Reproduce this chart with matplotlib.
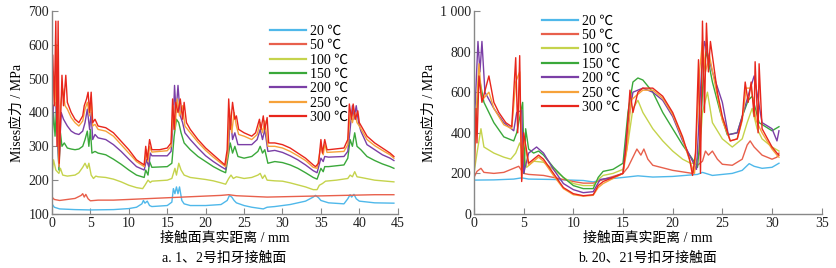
import matplotlib
matplotlib.use('Agg')
import matplotlib.pyplot as plt

plt.rcParams['font.family'] = ['Liberation Serif', 'Noto Sans CJK SC']
plt.rcParams['axes.unicode_minus'] = False

# ================================================================
# Data (x: mm, y: MPa)
# ================================================================
labels = ['20 ℃', '50 ℃', '100 ℃', '150 ℃', '200 ℃', '250 ℃', '300 ℃']
colors = ['#4fb8ea', '#e8604c', '#c5d34c', '#3aa83a', '#7b3fa6', '#f6a23a', '#e8261c']

# --- a. 1、2号扣牙接触面 ---
a20_x = [0, 0.3, 1, 3, 5, 8, 10, 11, 11.7, 11.9, 12.1, 12.4, 12.7, 13, 15, 15.6, 15.8, 16, 16.2, 16.4, 16.6, 16.9, 17.2, 18, 20, 22, 22.8, 23.1, 23.4, 23.7, 24, 25, 26, 27.5, 28, 29, 31, 33, 34, 34.3, 34.7, 35, 36, 38, 38.5, 38.8, 39, 39.3, 39.6, 40, 42, 44.5]
a20_y = [130, 120, 115, 113, 112, 113, 116, 120, 130, 140, 132, 138, 125, 122, 125, 135, 175, 160, 180, 160, 180, 140, 130, 125, 125, 128, 140, 155, 150, 140, 133, 125, 120, 115, 120, 122, 128, 138, 150, 155, 148, 140, 133, 130, 145, 157, 150, 158, 145, 138, 133, 132]

a50_x = [0, 0.3, 1, 2, 3, 3.8, 4, 4.2, 4.4, 4.7, 5, 6, 8, 10, 12, 14, 16, 18, 20, 22, 23, 24, 26, 28, 30, 32, 34, 36, 38, 40, 42, 44.5]
a50_y = [150, 143, 140, 143, 146, 155, 160, 150, 158, 145, 139, 141, 141, 143, 145, 147, 149, 151, 153, 155, 157, 154, 152, 150, 151, 152, 153, 154, 155, 156, 157, 157]

a100_x = [0, 0.2, 0.5, 0.9, 1.1, 1.4, 2, 3, 3.5, 4, 4.3, 4.6, 4.8, 5.1, 5.4, 5.7, 6, 7, 8, 9, 10, 11, 11.8, 12.1, 12.5, 12.8, 13, 15, 15.6, 16, 16.2, 16.5, 16.8, 17.2, 18, 19, 20, 21, 22, 22.6, 23, 23.3, 23.6, 24, 25, 26, 26.8, 27.1, 27.4, 27.7, 28, 29, 30, 31, 32, 33, 34, 34.5, 34.8, 35.2, 35.6, 37, 38.5, 38.8, 39.1, 39.4, 39.7, 40.2, 42, 44.5]
a100_y = [215, 260, 230, 220, 235, 215, 212, 215, 222, 238, 250, 235, 250, 215, 205, 212, 210, 208, 203, 195, 185, 178, 175, 185, 200, 193, 197, 200, 205, 235, 215, 250, 230, 215, 208, 205, 202, 198, 192, 188, 205, 215, 205, 210, 205, 208, 215, 220, 205, 215, 200, 198, 197, 192, 186, 180, 172, 172, 185, 190, 197, 200, 205, 215, 210, 225, 210, 208, 200, 195]

a150_x = [0, 0.2, 0.4, 0.6, 0.9, 1.1, 1.3, 1.6, 2, 2.5, 3, 3.5, 4, 4.3, 4.6, 4.8, 5, 5.2, 5.6, 6, 7, 8, 9, 10, 11, 12, 12.2, 12.5, 12.7, 13, 15, 15.6, 15.9, 16.2, 16.5, 16.8, 17.2, 18, 19, 20, 21, 22, 22.6, 23, 23.2, 23.5, 23.8, 24.2, 25, 26, 26.8, 27.1, 27.4, 27.7, 28.1, 29, 30, 31, 32, 33, 34, 34.5, 35, 35.3, 35.5, 36, 38, 38.5, 38.8, 39.1, 39.4, 39.7, 40.2, 41, 42, 43, 44, 44.5]
a150_y = [320, 400, 330, 420, 230, 340, 300, 310, 295, 292, 290, 292, 300, 320, 345, 300, 350, 280, 285, 280, 275, 262, 247, 230, 215, 208, 230, 215, 255, 238, 240, 250, 330, 380, 370, 340, 310, 290, 270, 255, 240, 228, 222, 280, 310, 280, 300, 270, 265, 270, 285, 300, 280, 290, 250, 255, 252, 245, 235, 222, 208, 203, 235, 225, 240, 240, 245, 265, 320, 300, 340, 300, 290, 270, 258, 248, 240, 235]

a200_x = [0, 0.2, 0.5, 0.9, 1.2, 1.5, 2, 2.5, 3, 3.5, 4, 4.3, 4.6, 4.9, 5.1, 5.3, 5.6, 6, 7, 8, 9, 10, 11, 12, 12.3, 12.6, 12.8, 13, 15, 15.5, 15.8, 15.95, 16.15, 16.4, 16.7, 17, 17.3, 18, 19, 20, 21, 22, 22.6, 23, 23.2, 23.5, 23.8, 24.2, 25, 26, 26.7, 27.1, 27.4, 27.7, 28.1, 29, 30, 31, 32, 33, 34, 34.5, 35, 35.3, 35.5, 36, 38, 38.5, 38.8, 39.1, 39.3, 39.6, 39.9, 40.2, 41, 42, 43, 44, 44.5]
a200_y = [350, 420, 430, 240, 400, 380, 360, 345, 338, 335, 345, 370, 410, 350, 400, 320, 335, 325, 320, 305, 285, 262, 240, 230, 260, 240, 280, 272, 272, 285, 380, 480, 400, 480, 390, 370, 340, 320, 295, 272, 255, 240, 232, 300, 390, 320, 340, 305, 305, 305, 320, 350, 320, 350, 285, 288, 282, 272, 260, 245, 228, 222, 265, 255, 270, 268, 270, 285, 350, 420, 380, 420, 370, 345, 305, 290, 275, 265, 258]

a250_x = [0, 0.2, 0.4, 0.6, 0.9, 1.1, 1.4, 1.7, 2, 2.5, 3, 3.5, 4, 4.3, 4.6, 4.9, 5.1, 5.3, 5.6, 6, 7, 8, 9, 10, 11, 12, 12.3, 12.5, 12.7, 13, 15, 15.5, 15.8, 16, 16.3, 16.6, 17, 17.3, 18, 19, 20, 21, 22, 22.6, 22.9, 23.1, 23.4, 23.7, 24, 24.3, 25, 26, 26.7, 27.1, 27.4, 27.7, 28.1, 29, 30, 31, 32, 33, 34, 34.5, 35, 35.3, 35.5, 35.8, 38, 38.5, 38.8, 39.1, 39.4, 39.7, 40, 41, 42, 43, 44, 44.5]
a250_y = [380, 520, 420, 600, 240, 420, 470, 420, 410, 385, 370, 360, 375, 410, 430, 390, 440, 360, 365, 350, 345, 330, 305, 280, 255, 240, 290, 255, 300, 283, 287, 300, 420, 350, 440, 390, 420, 360, 340, 312, 288, 268, 250, 240, 280, 410, 340, 400, 360, 335, 330, 320, 335, 370, 340, 375, 300, 300, 295, 285, 272, 258, 238, 235, 300, 275, 305, 282, 285, 305, 400, 370, 400, 370, 360, 320, 302, 288, 275, 265]

a300_x = [0, 0.1, 0.3, 0.5, 0.65, 0.8, 0.95, 1.3, 1.5, 1.8, 2, 2.5, 3, 3.5, 4, 4.2, 4.5, 4.7, 4.9, 5.1, 5.3, 5.6, 6, 7, 8, 9, 10, 11, 12, 12.2, 12.4, 12.7, 13, 14, 15, 15.5, 15.7, 15.9, 16.1, 16.4, 16.7, 17, 17.2, 17.5, 18, 19, 20, 21, 22, 22.5, 22.8, 23, 23.2, 23.5, 23.8, 24, 24.3, 25, 26, 26.5, 27, 27.2, 27.5, 27.7, 28, 28.2, 29, 30, 31, 32, 33, 34, 34.3, 34.7, 35, 35.2, 35.5, 35.8, 36, 38, 38.5, 38.7, 39, 39.2, 39.5, 39.8, 40, 41, 42, 43, 44, 44.5]
a300_y = [400, 570, 420, 670, 300, 670, 250, 510, 420, 510, 430, 400, 380, 370, 390, 420, 440, 460, 400, 460, 370, 380, 360, 355, 340, 315, 290, 260, 245, 300, 260, 320, 290, 290, 295, 310, 440, 350, 430, 400, 440, 380, 430, 370, 350, 320, 295, 275, 255, 245, 290, 440, 350, 430, 380, 390, 350, 340, 330, 340, 380, 350, 390, 350, 385, 310, 310, 305, 295, 280, 265, 245, 240, 250, 320, 280, 320, 290, 290, 295, 320, 425, 380, 425, 380, 405, 370, 330, 310, 295, 280, 270]

# --- b. 20、21号扣牙接触面 ---
b20_x = [0, 2, 4, 4.8, 5.5, 8, 11, 12, 13, 15, 16.5, 18, 20, 22.5, 23, 24, 26, 27, 27.7, 28.2, 29, 30, 30.7]
b20_y = [167, 168, 172, 178, 172, 170, 165, 158, 170, 180, 188, 182, 185, 195, 205, 190, 200, 215, 248, 235, 225, 230, 250]

b50_x = [0, 0.3, 0.7, 1, 2, 3, 3.5, 4.5, 5, 5.5, 7, 8, 10, 11, 12, 13, 15, 15.5, 16, 16.4, 16.8, 17.1, 17.5, 18, 20, 22, 22.5, 23, 23.3, 23.6, 24, 24.5, 25, 26, 27, 27.5, 27.8, 28.2, 29, 30, 30.5, 30.7]
b50_y = [180, 210, 225, 205, 200, 205, 215, 235, 200, 195, 190, 180, 160, 152, 152, 170, 200, 230, 280, 320, 290, 320, 270, 240, 215, 200, 240, 260, 310, 290, 310, 270, 245, 240, 270, 340, 360, 330, 290, 270, 280, 300]

b100_x = [0, 0.3, 0.7, 1, 2, 3, 3.7, 4.2, 4.6, 5, 5.3, 6, 7, 8, 9, 10, 11, 12, 12.5, 13, 14, 15, 15.5, 16, 16.5, 17, 18, 19, 20, 21, 21.8, 22.3, 22.7, 23, 23.5, 24, 25, 26, 27, 27.5, 28, 28.5, 29, 30, 30.7]
b100_y = [200, 300, 420, 330, 300, 280, 270, 300, 350, 290, 230, 260, 255, 220, 180, 150, 140, 140, 170, 190, 200, 220, 350, 520, 560, 500, 420, 360, 310, 270, 250, 250, 300, 500, 600, 450, 370, 330, 370, 450, 520, 420, 370, 330, 310]

b150_x = [0, 0.5, 1, 2, 3, 4, 4.3, 4.9, 5.05, 5.2, 5.5, 6, 6.5, 7, 8, 9, 10, 11, 12, 12.5, 13, 14, 15, 15.5, 16, 16.5, 17, 18, 19, 20, 21, 22, 22.5, 22.8, 23.1, 23.4, 24, 24.8, 25.5, 26.5, 27, 27.6, 28, 28.7, 30, 30.7]
b150_y = [300, 680, 550, 450, 380, 360, 400, 550, 200, 420, 320, 300, 310, 290, 230, 180, 140, 125, 125, 180, 210, 220, 250, 500, 650, 670, 660, 600, 500, 420, 340, 270, 230, 400, 700, 800, 650, 500, 390, 400, 480, 560, 580, 450, 410, 430]

b200_x = [0, 0.4, 0.6, 0.8, 1.1, 2, 3, 4, 4.3, 4.8, 5, 5.5, 6.3, 7, 8, 9, 10, 11, 12, 12.7, 14, 15, 15.5, 16, 17, 18, 19, 20, 21, 22, 22.4, 22.9, 23.2, 24, 25, 25.6, 26.5, 27, 27.7, 28.2, 29, 30, 30.5, 30.7]
b200_y = [400, 850, 700, 850, 600, 520, 450, 410, 500, 510, 200, 300, 330, 300, 220, 150, 120, 105, 110, 170, 180, 200, 450, 600, 620, 600, 560, 480, 360, 260, 220, 700, 850, 700, 550, 390, 400, 480, 600, 680, 450, 420, 360, 410]

b250_x = [0, 0.2, 0.5, 0.8, 1.5, 2, 3, 3.8, 4.2, 4.6, 4.8, 5, 5.5, 6.5, 7, 8, 9, 10, 11, 12, 12.5, 13, 14, 15, 15.4, 15.8, 16.5, 17, 18, 19, 20, 21, 21.8, 22.2, 22.7, 23, 23.3, 23.7, 24.5, 25, 25.8, 26.5, 27, 27.4, 27.9, 28.4, 29, 30, 30.5, 30.7]
b250_y = [180, 480, 740, 560, 600, 520, 440, 420, 650, 700, 170, 380, 240, 280, 260, 190, 125, 95, 88, 92, 130, 150, 175, 200, 320, 560, 590, 610, 610, 570, 490, 370, 250, 200, 700, 850, 700, 780, 580, 460, 360, 370, 460, 620, 620, 460, 400, 320, 290, 280]

b300_x = [0, 0.2, 0.3, 0.5, 0.8, 1.5, 2, 2.5, 3.2, 3.8, 4.2, 4.4, 4.6, 4.8, 5, 5.5, 6.5, 7, 8, 9, 10, 11, 12, 12.5, 13, 14, 15, 15.3, 15.7, 16, 16.5, 17, 18, 19, 20, 21, 21.7, 22, 22.3, 22.6, 22.8, 23, 23.2, 23.4, 23.6, 23.8, 24.5, 25, 25.8, 26.5, 27, 27.3, 27.6, 27.9, 28.2, 28.3, 28.6, 28.7, 29, 30, 30.5, 30.7]
b300_y = [170, 520, 350, 680, 550, 680, 550, 500, 450, 430, 770, 400, 780, 160, 400, 250, 290, 270, 200, 130, 100, 90, 95, 140, 160, 180, 200, 330, 610, 500, 600, 620, 620, 580, 500, 380, 270, 190, 300, 760, 200, 950, 500, 940, 700, 850, 600, 480, 360, 370, 470, 650, 550, 650, 480, 750, 400, 740, 420, 330, 300, 290]

a_series = [(a20_x, a20_y), (a50_x, a50_y), (a100_x, a100_y), (a150_x, a150_y),
            (a200_x, a200_y), (a250_x, a250_y), (a300_x, a300_y)]
b_series = [(b20_x, b20_y), (b50_x, b50_y), (b100_x, b100_y), (b150_x, b150_y),
            (b200_x, b200_y), (b250_x, b250_y), (b300_x, b300_y)]

a_xticks = [0, 5, 10, 15, 20, 25, 30, 35, 40, 45]
a_yticks = [100, 200, 300, 400, 500, 600, 700]
b_xticks = [0, 5, 10, 15, 20, 25, 30, 35]
b_yticks = [0, 200, 400, 600, 800, 1000]
b_yticklabels = ['0', '200', '400', '600', '800', '1 000']

# ================================================================
# Plot
# ================================================================
fig = plt.figure(figsize=(8.37, 2.68), dpi=100)
ax1 = fig.add_axes([0.0621, 0.2015, 0.4131, 0.7575])
ax2 = fig.add_axes([0.5663, 0.2015, 0.4154, 0.7575])

for ax, series in [(ax1, a_series), (ax2, b_series)]:
    for (xs, ys), lab, c in zip(series, labels, colors):
        ax.plot(xs, ys, color=c, lw=1.0, label=lab)
    for side in ['top', 'right']:
        ax.spines[side].set_visible(False)
    for side in ['left', 'bottom']:
        ax.spines[side].set_color('#888888')
        ax.spines[side].set_linewidth(1.0)
    ax.tick_params(direction='in', length=4, color='#888888', labelsize=10,
                   labelcolor='#222222', pad=2)
    ax.set_ylabel('Mises应力 / MPa', fontsize=10, labelpad=3)
    ax.set_xlabel('接触面真实距离 / mm', fontsize=10, labelpad=1)

ax1.set_xlim(0, 45)
ax1.set_ylim(100, 700)
ax1.set_xticks(a_xticks)
ax1.set_yticks(a_yticks)

ax2.set_xlim(0, 35)
ax2.set_ylim(0, 1000)
ax2.set_xticks(b_xticks)
ax2.set_yticks(b_yticks)
ax2.set_yticklabels(b_yticklabels)

leg_kw = dict(frameon=False, fontsize=10, handlelength=2.6, handletextpad=0.3,
              labelspacing=0.1, borderaxespad=0)
leg1 = ax1.legend(loc='upper left', bbox_to_anchor=(0.615, 0.96), **leg_kw)
leg2 = ax2.legend(loc='upper left', bbox_to_anchor=(0.18, 1.01), **leg_kw)
for leg in (leg1, leg2):
    for h in leg.get_lines():
        h.set_linewidth(1.6)

fig.text(0.268, 0.035, 'a. 1、2号扣牙接触面', ha='center', va='center', fontsize=10)
fig.text(0.774, 0.035, 'b. 20、21号扣牙接触面', ha='center', va='center', fontsize=10)

fig.savefig('out.png', dpi=100)
